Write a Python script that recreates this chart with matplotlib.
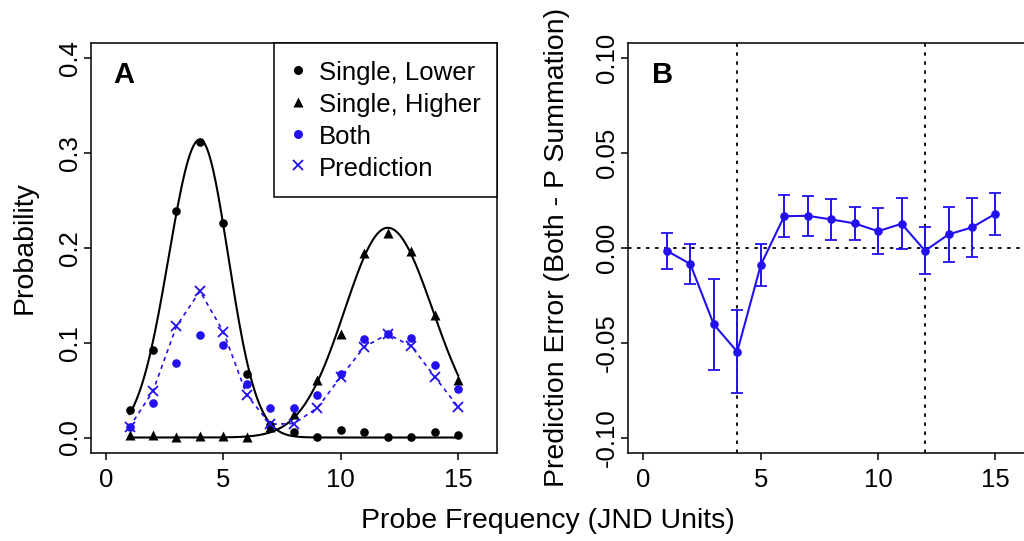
import numpy as np
import matplotlib
matplotlib.use("Agg")
import matplotlib.pyplot as plt
from matplotlib.lines import Line2D

plt.rcParams['font.family'] = ['Liberation Sans', 'DejaVu Sans']
plt.rcParams['axes.unicode_minus'] = False
plt.rcParams['lines.scale_dashes'] = False

# ---------------- data ----------------
probe = np.arange(1, 16)

single_lower = [0.0288, 0.0927, 0.2388, 0.3112, 0.2255, 0.0674, 0.013, 0.006,
                0.0006, 0.0084, 0.0053, 0.0006, 0.0006, 0.0056, 0.0027]
single_higher = [0.003, 0.003, 0.001, 0.002, 0.002, 0.001, 0.011, 0.025,
                 0.0604, 0.1089, 0.1939, 0.2156, 0.1966, 0.1289, 0.0611]
both = [0.0112, 0.0365, 0.079, 0.1078, 0.098, 0.0569, 0.0312, 0.0312,
        0.0453, 0.0674, 0.1033, 0.1089, 0.105, 0.0759, 0.0516]
prediction = [0.011, 0.0488, 0.1173, 0.1542, 0.1113, 0.0446, 0.014, 0.0147,
              0.0312, 0.0639, 0.0955, 0.1089, 0.0965, 0.0639, 0.0322]

# fitted curve parameters (peak, centre, left sd, right sd)
lower_fit = (0.314, 4.0, 1.33, 1.21)
higher_fit = (0.221, 12.0, 1.84, 1.92)

pred_error = [-0.0016, -0.0086, -0.0404, -0.0548, -0.0092, 0.0166, 0.0168, 0.0149,
              0.0128, 0.0087, 0.0126, -0.0016, 0.007, 0.0107, 0.0179]
pred_error_se = [0.0095, 0.0105, 0.0238, 0.0219, 0.011, 0.011, 0.0105, 0.0106,
                 0.0086, 0.012, 0.0135, 0.0124, 0.0145, 0.0156, 0.011]
target_freqs = [4, 12]

xticks = [0, 5, 10, 15]
yticksA = [0.0, 0.1, 0.2, 0.3, 0.4]
yticksB = [-0.10, -0.05, 0.00, 0.05, 0.10]

legend_labels = ["Single, Lower", "Single, Higher", "Both", "Prediction"]

# ---------------- style ----------------
BLUE = '#2211ee'
TICK_FS = 18.5
LAB_FS = 20.5

fig = plt.figure(figsize=(10.24, 5.41), dpi=100)
W, H = 1024.0, 541.0
bottom = (H - 452.7) / H
height = 410.0 / H
axA = fig.add_axes([91.0 / W, bottom, 405.7 / W, height])
axB = fig.add_axes([628.3 / W, bottom, 405.7 / W, height])


def split_gauss(x, p):
    peak, c, sl, sr = p
    s = np.where(x < c, sl, sr)
    return peak * np.exp(-(x - c) ** 2 / (2 * s ** 2))


def style_axes(ax, yticks, yfmt):
    ax.set_xlim(-0.64, 16.64)
    ax.set_xticks(xticks)
    ax.set_xticklabels([str(t) for t in xticks])
    ax.set_yticks(yticks)
    ax.set_yticklabels([yfmt % t for t in yticks])
    for sp in ax.spines.values():
        sp.set_linewidth(1.1)
    ax.tick_params(direction='out', length=5.3, width=1.1, labelsize=TICK_FS,
                   top=False, right=False)
    ax.tick_params(axis='x', pad=6)
    ax.tick_params(axis='y', pad=1.5)
    for lab in ax.get_yticklabels():
        lab.set_rotation(90)
        lab.set_va('center')


# ---------------- Panel A ----------------
xs = np.linspace(1, 15, 400)
axA.plot(xs, split_gauss(xs, lower_fit), color='black', lw=1.5, zorder=2)
axA.plot(xs, split_gauss(xs, higher_fit), color='black', lw=1.5, zorder=2)
axA.plot(probe, prediction, color=BLUE, lw=1.2, linestyle=(0, (3, 3)), zorder=2)

axA.plot(probe, single_lower, 'o', color='black', ms=6.2, mec='none', zorder=3)
axA.plot(probe, single_higher, '^', color='black', ms=6.8, mec='none', zorder=3)
axA.plot(probe, both, 'o', color=BLUE, ms=6.2, mec='none', zorder=3)
axA.plot(probe, prediction, 'x', color=BLUE, ms=7, mew=1.3, zorder=3)

axA.set_ylim(-0.016, 0.416)
style_axes(axA, yticksA, '%.1f')

handles = [
    Line2D([], [], ls='none', marker='o', color='black', ms=6.5, mec='none'),
    Line2D([], [], ls='none', marker='^', color='black', ms=7, mec='none'),
    Line2D([], [], ls='none', marker='o', color=BLUE, ms=6.5, mec='none'),
    Line2D([], [], ls='none', marker='x', color=BLUE, ms=7, mew=1.3),
]
leg = axA.legend(handles, legend_labels, loc='upper right', bbox_to_anchor=(1.0, 1.0),
                 borderaxespad=0, fontsize=TICK_FS, frameon=True, fancybox=False,
                 framealpha=1, edgecolor='black', borderpad=0.62, labelspacing=0.2,
                 handleheight=1.2, handlelength=0.62, handletextpad=0.52)
leg.get_frame().set_linewidth(1.1)

fig.text(123.5 / W, (H - 83) / H, 'A', fontsize=21, fontweight='bold',
         ha='center', va='baseline')

# ---------------- Panel B ----------------
axB.axhline(0, color='black', lw=1.3, linestyle=(0, (2.5, 4)), zorder=1)
for xf in target_freqs:
    axB.axvline(xf, color='black', lw=1.3, linestyle=(0, (2.5, 4)), zorder=1)
axB.errorbar(probe, pred_error, yerr=pred_error_se, color=BLUE, lw=1.5,
             marker='o', ms=6.2, mec='none', capsize=4.3, capthick=1.3,
             elinewidth=1.4, zorder=3)
axB.set_ylim(-0.108, 0.108)
style_axes(axB, yticksB, '%.2f')

fig.text(663 / W, (H - 83) / H, 'B', fontsize=21, fontweight='bold',
         ha='center', va='baseline')

# ---------------- labels ----------------
fig.text(25 / W, (H - 247.7) / H, 'Probability', rotation=90, fontsize=LAB_FS,
         ha='center', va='center')
fig.text(557 / W, (H - 247.7) / H, 'Prediction Error (Both - P Summation)',
         rotation=90, fontsize=LAB_FS, ha='center', va='center')
fig.text(548 / W, (H - 521) / H, 'Probe Frequency (JND Units)', fontsize=LAB_FS,
         ha='center', va='center')

fig.savefig('out.png', dpi=100)
